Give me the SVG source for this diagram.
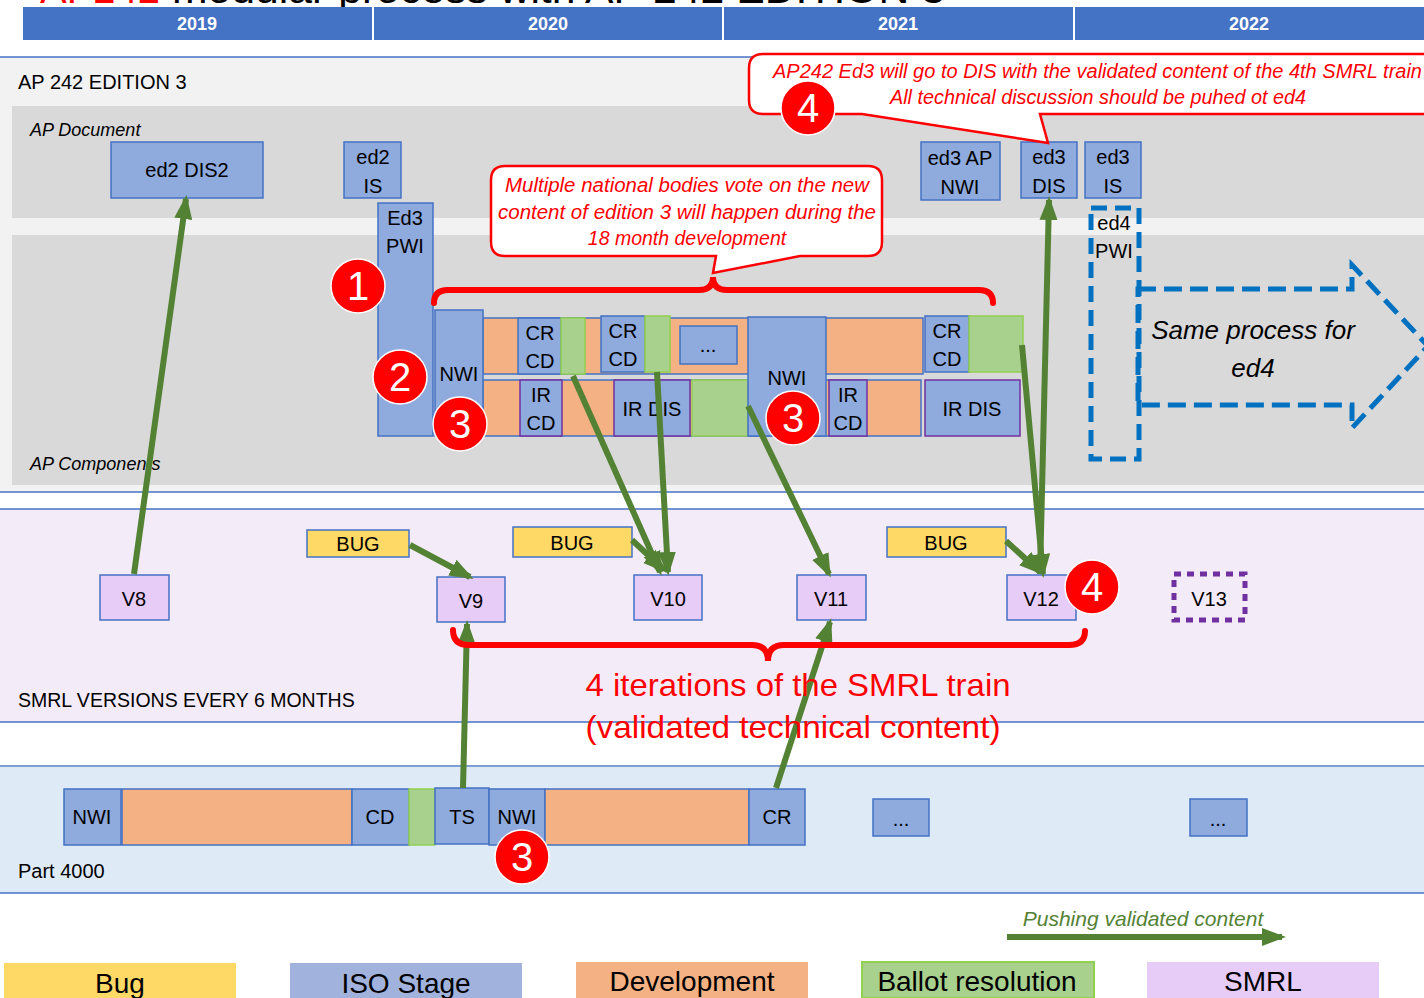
<svg xmlns="http://www.w3.org/2000/svg" width="1424" height="998" viewBox="0 0 1424 998">
<defs>
<style>
text{font-family:"Liberation Sans",Arial,sans-serif;fill:#000;}
.t20{font-size:20px;text-anchor:middle;}
.yr{font-size:18px;font-weight:bold;fill:#fff;text-anchor:middle;}
.iso{fill:#8FAADC;stroke:#4472C4;stroke-width:1.5;}
.dev{fill:#F4B183;stroke:#4472C4;stroke-width:1.5;}
.bal{fill:#A9D18E;stroke:#92D050;stroke-width:1.5;}
.ir{fill:#8FAADC;stroke:#7030A0;stroke-width:1.5;}
.bug{fill:#FFD966;stroke:#4472C4;stroke-width:1.5;}
.smrl{fill:#E6CCF7;stroke:#4472C4;stroke-width:1.5;}
.brace{fill:none;stroke:#FF0000;stroke-width:6;stroke-linecap:round;}
.call{fill:#fff;stroke:#FF0000;stroke-width:2.5;}
.ctext{font-size:19.5px;font-style:italic;fill:#FF0000;text-anchor:middle;}
.badge circle{fill:#FF0000;stroke:#fff;stroke-width:1.5;}
.badge text{font-size:40px;fill:#fff;text-anchor:middle;}
.conn line{stroke:#548235;stroke-width:6;}
.sep{stroke:#4472C4;stroke-width:1.5;}
.leg{font-size:28px;text-anchor:middle;}
</style>
<marker id="ah" markerUnits="userSpaceOnUse" markerWidth="24" markerHeight="20" viewBox="0 0 24 20" refX="20" refY="10" orient="auto">
<path d="M0,1 L24,10 L0,19 Z" fill="#548235"/>
</marker>
</defs>
<rect x="0" y="0" width="1424" height="998" fill="#fff"/>

<!-- title (cut off at top, as in the reference) -->
<g id="title">
<text x="40" y="3" font-size="40" textLength="120" lengthAdjust="spacingAndGlyphs" style="fill:#FF0000">AP242</text>
<text x="172" y="3" font-size="40" textLength="773" lengthAdjust="spacingAndGlyphs">modular process with AP 242 EDITION 3</text>
</g>

<!-- year header -->
<g id="years">
<rect x="23" y="7" width="349" height="33" fill="#4472C4"/>
<rect x="374" y="7" width="348" height="33" fill="#4472C4"/>
<rect x="724" y="7" width="349" height="33" fill="#4472C4"/>
<rect x="1075" y="7" width="349" height="33" fill="#4472C4"/>
<text class="yr" x="197" y="30">2019</text>
<text class="yr" x="548" y="30">2020</text>
<text class="yr" x="898" y="30">2021</text>
<text class="yr" x="1249" y="30">2022</text>
</g>

<!-- swimlanes -->
<g id="lanes">
<rect x="0" y="57" width="1424" height="435" fill="#F2F2F2"/>
<line class="sep" x1="0" y1="57" x2="1424" y2="57"/>
<line class="sep" x1="0" y1="492" x2="1424" y2="492"/>
<rect x="12" y="106" width="1412" height="112" fill="#D9D9D9"/>
<rect x="12" y="235" width="1412" height="250" fill="#D9D9D9"/>
<rect x="0" y="509" width="1424" height="213" fill="#F4EBF9"/>
<line class="sep" x1="0" y1="509" x2="1424" y2="509"/>
<line class="sep" x1="0" y1="722" x2="1424" y2="722"/>
<rect x="0" y="766" width="1424" height="127" fill="#DEEAF6"/>
<line x1="0" y1="766" x2="1424" y2="766" stroke="#7F9FD3" stroke-width="2"/>
<line class="sep" x1="0" y1="893" x2="1424" y2="893"/>
<text x="18" y="89" font-size="20">AP 242 EDITION 3</text>
<text x="30" y="136" font-size="18" font-style="italic">AP Document</text>
<text x="30" y="470" font-size="18" font-style="italic">AP Components</text>
<text x="18" y="707" font-size="19.5">SMRL VERSIONS EVERY 6 MONTHS</text>
<text x="18" y="878" font-size="20">Part 4000</text>
</g>

<!-- AP Document nodes -->
<g id="ed2dis2"><rect class="iso" x="111" y="142" width="152" height="56"/><text class="t20" x="187" y="177">ed2 DIS2</text></g>
<g id="ed2is"><rect class="iso" x="344" y="142" width="57" height="56"/><text class="t20" x="373" y="164">ed2</text><text class="t20" x="373" y="193">IS</text></g>
<g id="ed3apnwi"><rect class="iso" x="921" y="142" width="79" height="58"/><text class="t20" x="960" y="165">ed3 AP</text><text class="t20" x="960" y="194">NWI</text></g>
<g id="ed3dis"><rect class="iso" x="1021" y="142" width="56" height="56"/><text class="t20" x="1049" y="164">ed3</text><text class="t20" x="1049" y="193">DIS</text></g>
<g id="ed3is"><rect class="iso" x="1085" y="142" width="56" height="56"/><text class="t20" x="1113" y="164">ed3</text><text class="t20" x="1113" y="193">IS</text></g>

<!-- AP Components nodes -->
<g id="ed3pwi"><rect class="iso" x="378" y="203" width="55" height="233"/><text class="t20" x="405" y="225">Ed3</text><text class="t20" x="405" y="253">PWI</text></g>
<g id="dev-row">
<rect class="dev" x="483" y="318" width="440" height="56"/>
<rect class="dev" x="483" y="380" width="438" height="56"/>
</g>
<g id="nwi1"><rect class="iso" x="435" y="310" width="48" height="126"/><text class="t20" x="459" y="381">NWI</text></g>
<g id="crcd1"><rect class="iso" x="518" y="318" width="43" height="56"/><text class="t20" x="540" y="340">CR</text><text class="t20" x="540" y="368">CD</text></g>
<g id="bal1"><rect class="bal" x="561" y="318" width="24" height="56"/></g>
<g id="crcd2"><rect class="iso" x="601" y="316" width="44" height="56"/><text class="t20" x="623" y="338">CR</text><text class="t20" x="623" y="366">CD</text></g>
<g id="bal2"><rect class="bal" x="645" y="316" width="25" height="56"/></g>
<g id="dots1"><rect class="iso" x="680" y="326" width="57" height="38"/><text class="t20" x="708" y="352" font-size="18">...</text></g>
<g id="ircd1"><rect class="ir" x="520" y="380" width="42" height="56"/><text class="t20" x="541" y="402">IR</text><text class="t20" x="541" y="430">CD</text></g>
<g id="irdis1"><rect class="ir" x="614" y="380" width="76" height="56"/><text class="t20" x="652" y="416">IR DIS</text></g>
<g id="bal3"><rect class="bal" x="692" y="380" width="56" height="56"/></g>
<g id="nwi2"><rect class="iso" x="748" y="317" width="78" height="119"/><text class="t20" x="787" y="385">NWI</text></g>
<g id="crcd3"><rect class="iso" x="925" y="316" width="44" height="56"/><text class="t20" x="947" y="338">CR</text><text class="t20" x="947" y="366">CD</text></g>
<g id="bal4"><rect class="bal" x="969" y="316" width="54" height="56"/></g>
<g id="ircd2"><rect class="ir" x="829" y="380" width="38" height="56"/><text class="t20" x="848" y="402">IR</text><text class="t20" x="848" y="430">CD</text></g>
<g id="irdis2"><rect class="ir" x="925" y="380" width="95" height="56"/><text class="t20" x="972" y="416">IR DIS</text></g>

<g id="ed4pwi"><rect x="1091" y="208" width="48" height="251" fill="none" stroke="#0070C0" stroke-width="5" stroke-dasharray="16 8"/><text class="t20" x="1114" y="230">ed4</text><text class="t20" x="1114" y="258">PWI</text></g>
<g id="ed4arrow">
<path d="M1138,289 L1352,289 L1352,265 L1428,346 L1352,428 L1352,405 L1138,405 Z" fill="none" stroke="#0070C0" stroke-width="5" stroke-dasharray="18 8"/>
<text x="1253" y="339" font-size="26" font-style="italic" text-anchor="middle">Same process for</text>
<text x="1253" y="377" font-size="26" font-style="italic" text-anchor="middle">ed4</text>
</g>

<!-- SMRL nodes -->
<g id="bug1"><rect class="bug" x="307" y="530" width="102" height="27"/><text class="t20" x="358" y="551">BUG</text></g>
<g id="bug2"><rect class="bug" x="513" y="527" width="119" height="30"/><text class="t20" x="572" y="550">BUG</text></g>
<g id="bug3"><rect class="bug" x="887" y="527" width="119" height="30"/><text class="t20" x="946" y="550">BUG</text></g>
<g id="v8"><rect class="smrl" x="100" y="575" width="69" height="45"/><text class="t20" x="134" y="606" font-size="22">V8</text></g>
<g id="v9"><rect class="smrl" x="437" y="577" width="68" height="45"/><text class="t20" x="471" y="608" font-size="22">V9</text></g>
<g id="v10"><rect class="smrl" x="634" y="575" width="68" height="45"/><text class="t20" x="668" y="606" font-size="22">V10</text></g>
<g id="v11"><rect class="smrl" x="797" y="575" width="69" height="45"/><text class="t20" x="831" y="606" font-size="22">V11</text></g>
<g id="v12"><rect class="smrl" x="1007" y="575" width="69" height="45"/><text class="t20" x="1041" y="606" font-size="22">V12</text></g>
<g id="v13"><rect x="1174" y="574" width="71" height="46" fill="none" stroke="#7030A0" stroke-width="5" stroke-dasharray="7 6"/><text class="t20" x="1209" y="606" font-size="22">V13</text></g>

<!-- Part 4000 nodes -->
<g id="p-nwi1"><rect class="iso" x="64" y="789" width="57" height="56"/><text class="t20" x="92" y="824">NWI</text></g>
<g id="p-dev1"><rect class="dev" x="122" y="789" width="230" height="56"/></g>
<g id="p-cd"><rect class="iso" x="352" y="789" width="57" height="56"/><text class="t20" x="380" y="824">CD</text></g>
<g id="p-bal"><rect class="bal" x="409" y="789" width="26" height="56"/></g>
<g id="p-ts"><rect class="iso" x="435" y="788" width="54" height="56"/><text class="t20" x="462" y="824">TS</text></g>
<g id="p-nwi2"><rect class="iso" x="489" y="789" width="56" height="56"/><text class="t20" x="517" y="824">NWI</text></g>
<g id="p-dev2"><rect class="dev" x="545" y="789" width="204" height="56"/></g>
<g id="p-cr"><rect class="iso" x="749" y="789" width="56" height="56"/><text class="t20" x="777" y="824">CR</text></g>
<g id="p-dots1"><rect class="iso" x="873" y="799" width="56" height="37"/><text class="t20" x="901" y="826" font-size="18">...</text></g>
<g id="p-dots2"><rect class="iso" x="1190" y="799" width="57" height="37"/><text class="t20" x="1218" y="826" font-size="18">...</text></g>

<!-- connectors -->
<g id="connectors" class="conn">
<line x1="134" y1="574" x2="186" y2="199" marker-end="url(#ah)"/>
<line x1="410" y1="545" x2="470" y2="577" marker-end="url(#ah)"/>
<line x1="573" y1="376" x2="660" y2="572" marker-end="url(#ah)"/>
<line x1="657" y1="372" x2="668" y2="572" marker-end="url(#ah)"/>
<line x1="632" y1="540" x2="664" y2="570" marker-end="url(#ah)"/>
<line x1="748" y1="406" x2="829" y2="574" marker-end="url(#ah)"/>
<line x1="1022" y1="345" x2="1043" y2="574" marker-end="url(#ah)"/>
<line x1="1040" y1="574" x2="1049" y2="200" marker-end="url(#ah)"/>
<line x1="1006" y1="541" x2="1040" y2="572" marker-end="url(#ah)"/>
<line x1="463" y1="788" x2="467" y2="624" marker-end="url(#ah)"/>
<line x1="776" y1="788" x2="830" y2="622" marker-end="url(#ah)"/>
<line x1="1007" y1="937" x2="1282" y2="937" marker-end="url(#ah)"/>
</g>
<text x="1143" y="926" font-size="21" font-style="italic" text-anchor="middle" style="fill:#548235">Pushing validated content</text>

<!-- braces -->
<g id="brace-top"><path class="brace" d="M434,303 Q434,290 448,290 L699,290 Q713,290 713,277 Q713,290 727,290 L979,290 Q993,290 993,303"/></g>
<g id="brace-smrl"><path class="brace" d="M453,630 Q453,645 469,645 L752,645 Q768,645 768,661 Q768,645 784,645 L1069,645 Q1085,645 1085,631"/>
<text x="798" y="696" font-size="32" text-anchor="middle" textLength="425" lengthAdjust="spacingAndGlyphs" style="fill:#FF0000">4 iterations of the SMRL train</text>
<text x="793" y="738" font-size="32" text-anchor="middle" textLength="415" lengthAdjust="spacingAndGlyphs" style="fill:#FF0000">(validated technical content)</text>
</g>

<!-- callouts -->
<g id="callout1">
<path class="call" d="M505,166 L868,166 Q882,166 882,180 L882,242 Q882,256 868,256 L800,256 L713,273 L716,256 L505,256 Q491,256 491,242 L491,180 Q491,166 505,166 Z"/>
<text class="ctext" x="687" y="192" textLength="364" lengthAdjust="spacingAndGlyphs">Multiple national bodies vote on the new</text>
<text class="ctext" x="687" y="219" textLength="378" lengthAdjust="spacingAndGlyphs">content of edition 3 will happen during the</text>
<text class="ctext" x="687" y="245">18 month development</text>
</g>
<g id="callout2">
<path class="call" d="M763,54 L1440,54 L1440,114 L1040,114 L1048,143 L862,114 L763,114 Q749,114 749,100 L749,68 Q749,54 763,54 Z"/>
<text class="ctext" x="773" y="78" textLength="649" lengthAdjust="spacingAndGlyphs" style="text-anchor:start">AP242 Ed3 will go to DIS with the validated content of the 4th SMRL train</text>
<text class="ctext" x="1098" y="104" textLength="416" lengthAdjust="spacingAndGlyphs">All technical discussion should be puhed ot ed4</text>
</g>

<!-- badges -->
<g id="badge-1" class="badge"><circle cx="358" cy="286" r="27"/><text x="358" y="300">1</text></g>
<g id="badge-2" class="badge"><circle cx="400" cy="377" r="27"/><text x="400" y="391">2</text></g>
<g id="badge-3a" class="badge"><circle cx="460" cy="424" r="27"/><text x="460" y="438">3</text></g>
<g id="badge-3b" class="badge"><circle cx="793" cy="418" r="27"/><text x="793" y="432">3</text></g>
<g id="badge-3c" class="badge"><circle cx="522" cy="857" r="27"/><text x="522" y="871">3</text></g>
<g id="badge-4a" class="badge"><circle cx="808" cy="108" r="27"/><text x="808" y="122">4</text></g>
<g id="badge-4b" class="badge"><circle cx="1092" cy="587" r="27"/><text x="1092" y="601">4</text></g>

<!-- legend -->
<g id="legend">
<rect x="4" y="963" width="232" height="35" fill="#FFD966"/>
<rect x="290" y="963" width="232" height="35" fill="#A1B3DC"/>
<rect x="576" y="962" width="232" height="36" fill="#F4B183"/>
<rect x="862" y="962" width="232" height="36" fill="#A9D18E" stroke="#92D050" stroke-width="2"/>
<rect x="1147" y="962" width="232" height="36" fill="#E6CCF7"/>
<text class="leg" x="120" y="993">Bug</text>
<text class="leg" x="406" y="993">ISO Stage</text>
<text class="leg" x="692" y="991">Development</text>
<text class="leg" x="977" y="991">Ballot resolution</text>
<text class="leg" x="1263" y="991">SMRL</text>
</g>
</svg>
